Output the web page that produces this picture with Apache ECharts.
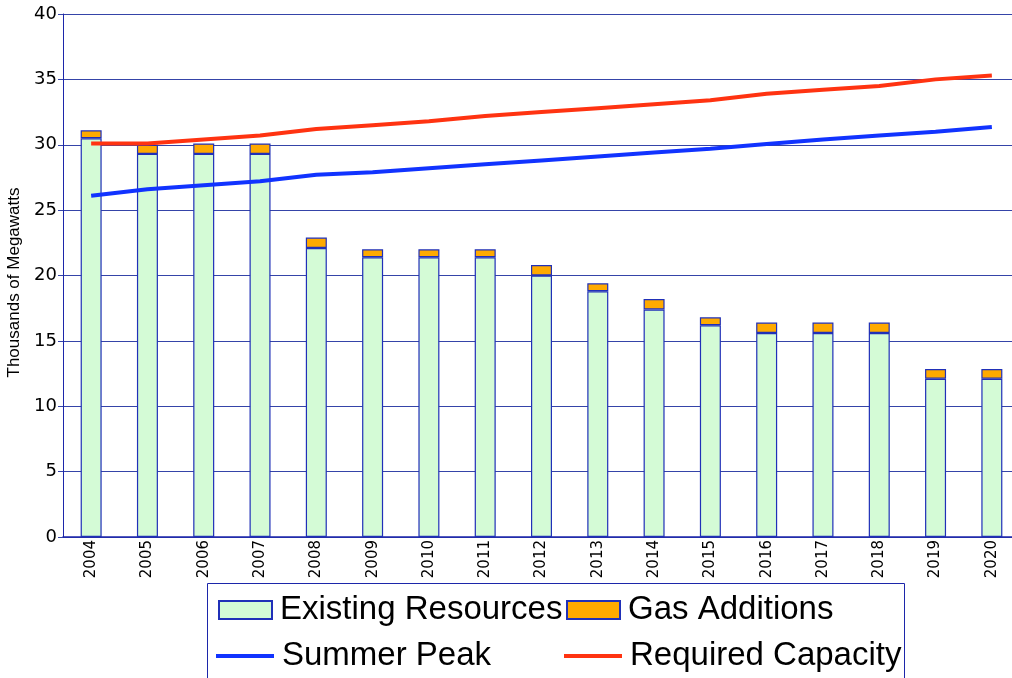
<!DOCTYPE html>
<html>
<head>
<meta charset="utf-8">
<script src="https://cdn.jsdelivr.net/npm/echarts@6/dist/echarts.min.js"></script>
<style>
  html, body { margin: 0; padding: 0; background: #fff; }
  #chart { width: 1012px; height: 678px; }
</style>
</head>
<body>
<div id="chart"></div>
<script>
const years = ['2004', '2005', '2006', '2007', '2008', '2009', '2010', '2011', '2012',
  '2013', '2014', '2015', '2016', '2017', '2018', '2019', '2020']
const existingResources = [30.5, 29.3, 29.3, 29.3, 22.1, 21.4, 21.4, 21.4, 20.0,
  18.8, 17.4, 16.2, 15.6, 15.6, 15.6, 12.1, 12.1]
const gasAdditions = [0.6, 0.7, 0.8, 0.8, 0.8, 0.6, 0.6, 0.6, 0.8,
  0.6, 0.8, 0.6, 0.8, 0.8, 0.8, 0.75, 0.75]
const summerPeak = [26.1, 26.6, 26.9, 27.2, 27.7, 27.9, 28.2, 28.5, 28.8,
  29.1, 29.4, 29.7, 30.05, 30.4, 30.7, 31.0, 31.35]
const requiredCapacity = [30.1, 30.1, 30.4, 30.7, 31.2, 31.5, 31.8, 32.2, 32.5,
  32.8, 33.1, 33.4, 33.9, 34.2, 34.5, 35.0, 35.3]

const axisBlue = '#1c26aa'
const gridBlue = '#3544a8'
const font = 'DejaVu Sans'
const legendText = { fontFamily: 'Liberation Sans', fontSize: 33, lineHeight: 34, color: '#000', padding: [0, 0, 0, 3] }

const chart = echarts.init(document.getElementById('chart'))

const legendBase = {
  orient: 'horizontal',
  padding: 0,
  itemGap: 0,
  selectedMode: false,
  textStyle: legendText
}

chart.setOption({
  animation: false,
  textStyle: { fontFamily: font },
  // the plot runs a little past the right edge of the picture
  grid: { left: 63, width: 957, top: 14, bottom: 141, outerBoundsMode: 'none', containLabel: false },
  legend: [
    { ...legendBase, data: [{ name: 'Existing Resources', icon: 'rect' }], left: 218, top: 593, itemWidth: 53, itemHeight: 18 },
    { ...legendBase, data: [{ name: 'Gas Additions', icon: 'rect' }], left: 566, top: 593, itemWidth: 53, itemHeight: 18 },
    { ...legendBase, data: [{ name: 'Summer Peak', icon: 'rect' }], left: 216, top: 639, itemWidth: 58, itemHeight: 4 },
    { ...legendBase, data: [{ name: 'Required Capacity', icon: 'rect' }], left: 564, top: 639, itemWidth: 58, itemHeight: 4 }
  ],
  graphic: [{
    type: 'rect',
    shape: { x: 207.5, y: 583.5, width: 697, height: 110 },
    style: { fill: 'none', stroke: axisBlue, lineWidth: 1 }
  }],
  xAxis: {
    type: 'category',
    data: years,
    boundaryGap: true,
    axisLine: { lineStyle: { color: axisBlue, width: 1.5 } },
    axisTick: { show: false },
    axisLabel: { rotate: 90, fontSize: 15, color: '#000', margin: 3, fontFamily: font }
  },
  yAxis: {
    type: 'value',
    min: 0,
    max: 40,
    interval: 5,
    name: 'Thousands of Megawatts',
    nameLocation: 'middle',
    nameGap: 35,
    nameTextStyle: { fontSize: 17, color: '#000', fontFamily: 'Liberation Sans', padding: [0, 14, 0, 0] },
    axisLine: { show: true, lineStyle: { color: axisBlue, width: 1 } },
    axisTick: { show: true, length: 5, lineStyle: { color: gridBlue } },
    axisLabel: { fontSize: 18, color: '#000', margin: 6, fontFamily: font },
    splitLine: { lineStyle: { color: gridBlue, width: 1 } }
  },
  series: [
    {
      name: 'Existing Resources',
      type: 'bar',
      stack: 'res',
      barWidth: 21,
      data: existingResources,
      itemStyle: { color: '#d4fbd6', borderColor: '#2030b8', borderWidth: 1.2 }
    },
    {
      name: 'Gas Additions',
      type: 'bar',
      stack: 'res',
      barWidth: 21,
      data: gasAdditions,
      itemStyle: { color: '#ffaa00', borderColor: '#2030b8', borderWidth: 1.2 }
    },
    {
      name: 'Summer Peak',
      type: 'line',
      data: summerPeak,
      showSymbol: false,
      symbol: 'none',
      itemStyle: { color: '#1133ff' },
      lineStyle: { color: '#1133ff', width: 4 }
    },
    {
      name: 'Required Capacity',
      type: 'line',
      data: requiredCapacity,
      showSymbol: false,
      symbol: 'none',
      itemStyle: { color: '#ff3311' },
      lineStyle: { color: '#ff3311', width: 4 }
    }
  ]
})
</script>
</body>
</html>
